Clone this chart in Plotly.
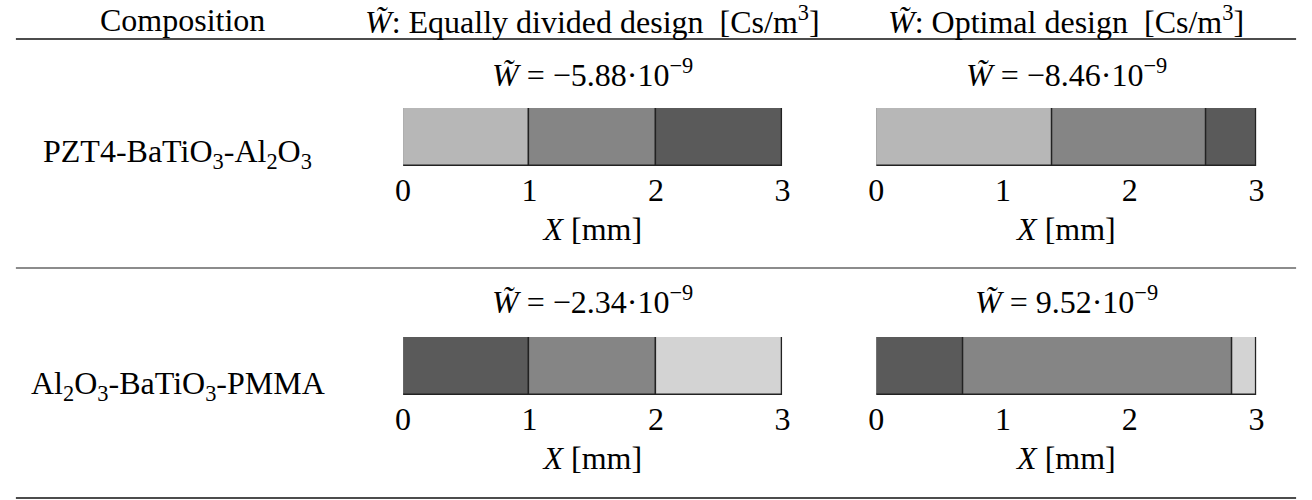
import plotly.graph_objects as go

# ---- data ----
compositions = ["PZT4-BaTiO<sub>3</sub>-Al<sub>2</sub>O<sub>3</sub>",
                "Al<sub>2</sub>O<sub>3</sub>-BaTiO<sub>3</sub>-PMMA"]
headers = ["Composition",
           "<i>W̃</i>: Equally divided design  [Cs/m<sup>3</sup>]",
           "<i>W̃</i>: Optimal design  [Cs/m<sup>3</sup>]"]
# layer thicknesses in mm (left to right)
equal_row1 = [1.0, 1.0, 1.0]
optimal_row1 = [1.39, 1.21, 0.40]
equal_row2 = [1.0, 1.0, 1.0]
optimal_row2 = [0.69, 2.12, 0.19]
# materials per layer
materials_row1 = ["PZT4", "BaTiO3", "Al2O3"]
materials_row2 = ["Al2O3", "BaTiO3", "PMMA"]
# W values (mantissa of x 10^-9)
w_values = [["−5.88", "−8.46"], ["−2.34", "9.52"]]
tick_vals = [0, 1, 2, 3]
tick_text = ["0", "1", "2", "3"]

colors = {"PZT4": "#b7b7b7", "BaTiO3": "#858585", "Al2O3": "#5a5a5a", "PMMA": "#d3d3d3"}

W, H = 1312, 500
FONT = "Liberation Serif"
FS = 32

fig = go.Figure()

panels = [
    (equal_row1, materials_row1, 1, 0),
    (optimal_row1, materials_row1, 1, 1),
    (equal_row2, materials_row2, 2, 0),
    (optimal_row2, materials_row2, 2, 1),
]
col_px = [(400, 784), (879, 1264)]
row_px = [(108, 166), (337, 395)]

for idx, (widths, mats, row, col) in enumerate(panels):
    n = idx + 1
    xa = "x" if n == 1 else f"x{n}"
    ya = "y" if n == 1 else f"y{n}"
    base = 0.0
    for w, m in zip(widths, mats):
        fig.add_trace(go.Bar(
            x=[w], y=[0], base=[base], orientation="h",
            marker=dict(color=colors[m], line=dict(color="#222222", width=1.4)),
            xaxis=xa, yaxis=ya, showlegend=False, hoverinfo="skip", width=1,
        ))
        base += w
    x0, x1 = col_px[col]
    y0, y1 = row_px[row - 1]
    xkey = "xaxis" if n == 1 else f"xaxis{n}"
    ykey = "yaxis" if n == 1 else f"yaxis{n}"
    fig.update_layout(**{
        xkey: dict(domain=[x0 / W, x1 / W], range=[0, 3], anchor=ya,
                   tickvals=tick_vals, ticktext=tick_text, ticks="",
                   showgrid=False, zeroline=False, showline=False,
                   tickfont=dict(family=FONT, size=FS, color="black"),
                   ticklabelstandoff=2,
                   title=dict(text="<i>X</i> [mm]", standoff=10,
                              font=dict(family=FONT, size=FS, color="black"))),
        ykey: dict(domain=[1 - y1 / H, 1 - y0 / H], range=[-0.5, 0.5], anchor=xa,
                   visible=False, fixedrange=True),
    })
    # W annotation
    wy = 73 if row == 1 else 300
    fig.add_annotation(
        x=(x0 + x1) / 2 / W, y=1 - wy / H, xref="paper", yref="paper",
        text=f"<i>W̃</i> = {w_values[row - 1][col]}·10<sup>−9</sup>",
        showarrow=False, font=dict(family=FONT, size=FS, color="black"),
        xanchor="center", yanchor="middle")

# headers
header_x = [177, 592, 1071]
for hx, ht in zip(header_x, headers):
    fig.add_annotation(x=hx / W, y=1 - 19.5 / H, xref="paper", yref="paper", text=ht,
                       showarrow=False, font=dict(family=FONT, size=FS, color="black"),
                       xanchor="center", yanchor="middle")
# row labels
for ly, lt in zip([153, 385], compositions):
    fig.add_annotation(x=172 / W, y=1 - ly / H, xref="paper", yref="paper", text=lt,
                       showarrow=False, font=dict(family=FONT, size=FS, color="black"),
                       xanchor="center", yanchor="middle")

# table rules
for ry, col_, wd in [(39, "#111111", 1.6), (268, "#666666", 1.4), (498, "#111111", 1.6)]:
    fig.add_shape(type="line", xref="paper", yref="paper",
                  x0=8 / W, x1=1304 / W, y0=1 - ry / H, y1=1 - ry / H,
                  line=dict(color=col_, width=wd))

fig.update_layout(width=W, height=H, margin=dict(l=0, r=0, t=0, b=0),
                  paper_bgcolor="white", plot_bgcolor="white",
                  barmode="overlay", bargap=0)

fig.write_html("out.html")
